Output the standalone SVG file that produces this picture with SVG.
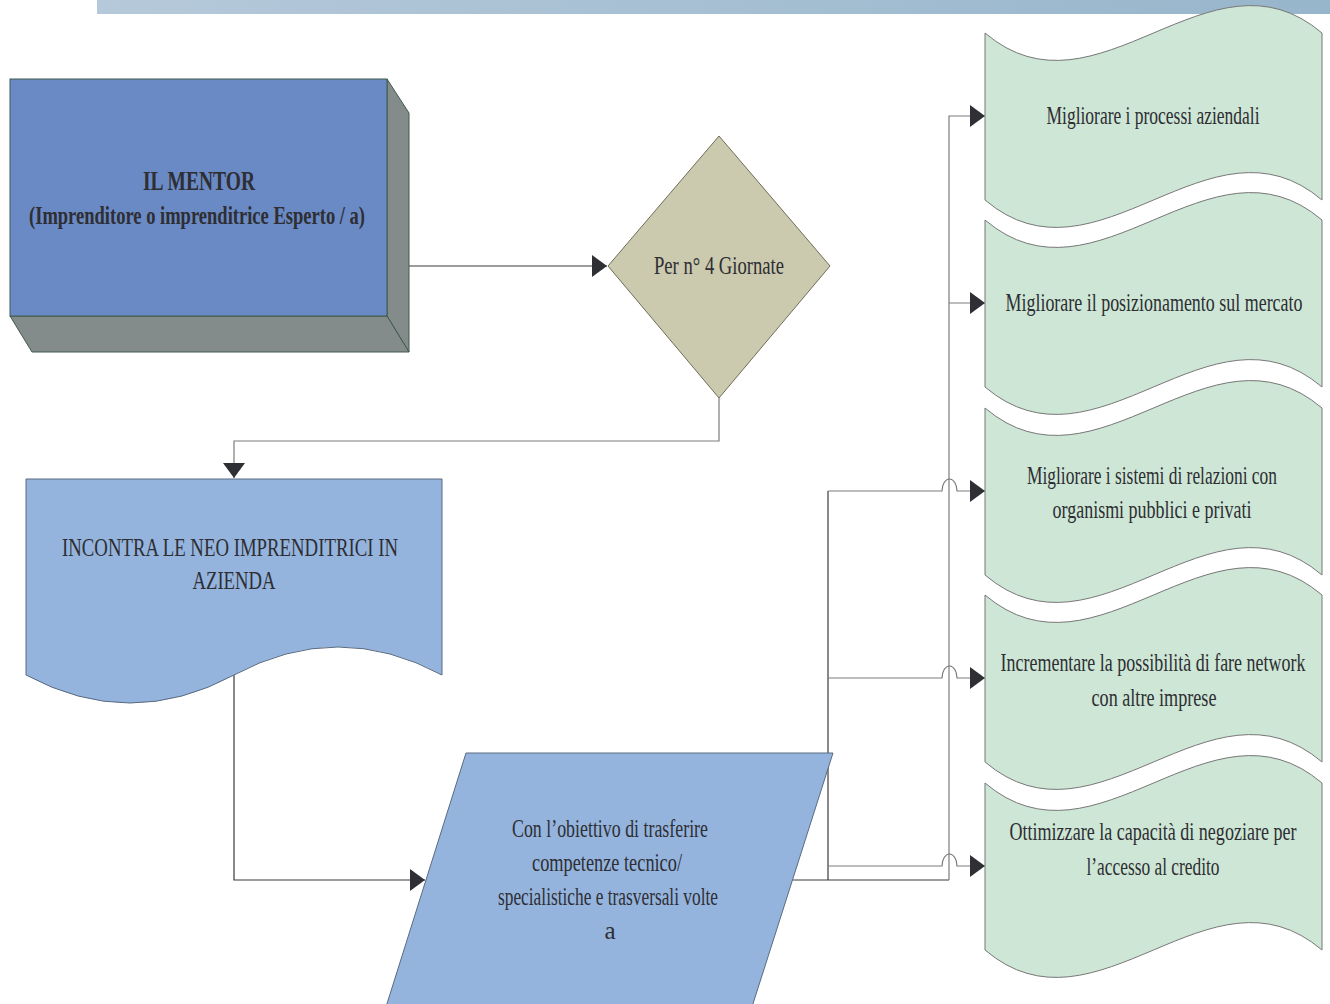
<svg xmlns="http://www.w3.org/2000/svg" width="1330" height="1004" viewBox="0 0 1330 1004">
<defs>
<linearGradient id="bar" x1="0" y1="0" x2="1" y2="0">
<stop offset="0" stop-color="#b5c9da"/>
<stop offset="1" stop-color="#97b5cb"/>
</linearGradient>
<marker id="arr" markerUnits="userSpaceOnUse" markerWidth="15" markerHeight="22" refX="15" refY="11" orient="auto">
<path d="M0,0 L15,11 L0,22 Z" fill="#2f2f36"/>
</marker>
</defs>
<style>
text{font-family:"Liberation Serif","Times New Roman",serif;fill:#2e2e33;text-anchor:middle}
.t{font-size:25px}
.wave{fill:#cde6d5;stroke:#777;stroke-width:1}
.dk{fill:none;stroke:#3a3a3a;stroke-width:1.2}
.gr{fill:none;stroke:#7c7c7c;stroke-width:1.2}
</style>
<rect x="97" y="0" width="1233" height="14" fill="url(#bar)"/>

<g id="connectors">
<path class="dk" d="M409,266 H607" marker-end="url(#arr)"/>
<path class="gr" d="M719,398 V441 H234 V478" marker-end="url(#arr)"/>
<path class="dk" d="M234,675 V880 H425" marker-end="url(#arr)"/>
<path class="dk" d="M793,880 H949"/>
<path class="gr" d="M949,880 V116 H985" marker-end="url(#arr)"/>
<path class="gr" d="M949,303 H985" marker-end="url(#arr)"/>
<path class="dk" d="M828,880 V491"/>
<path class="gr" d="M828,491 H942 A7.5,12 0 0 1 957,491 H985" marker-end="url(#arr)"/>
<path class="gr" d="M828,678 H942 A7.5,12 0 0 1 957,678 H985" marker-end="url(#arr)"/>
<path class="gr" d="M828,866 H942 A7.5,12 0 0 1 957,866 H985" marker-end="url(#arr)"/>
</g>

<g id="mentor">
<path d="M387,79 L409,113 V352 L387,316 Z" fill="#838b8b" stroke="#3f5a4a" stroke-width="1"/>
<path d="M10,316 L32,352 H409 L387,316 Z" fill="#838b8b" stroke="#3f5a4a" stroke-width="1"/>
<rect x="10" y="79" width="377" height="237" fill="#6a8ac6" stroke="#3f5a4a" stroke-width="1"/>
<text x="199" y="190" font-size="28" font-weight="bold" textLength="112" lengthAdjust="spacingAndGlyphs">IL MENTOR</text>
<text x="197" y="224" font-size="26" font-weight="bold" textLength="336" lengthAdjust="spacingAndGlyphs">(Imprenditore o imprenditrice  Esperto / a)</text>
</g>

<g id="giornate">
<path d="M719,136 L830,266 L719,398 L608,266 Z" fill="#cbc9ae" stroke="#6e6c58" stroke-width="1"/>
<text class="t" x="719" y="274" textLength="130" lengthAdjust="spacingAndGlyphs">Per n° 4 Giornate</text>
</g>

<g id="incontra">
<path d="M26,479 H442 V675 Q338,619 234,675 Q130,731 26,675 Z" fill="#94b4de" stroke="#5a6a80" stroke-width="1"/>
<text class="t" x="230" y="556" textLength="336" lengthAdjust="spacingAndGlyphs">INCONTRA LE NEO IMPRENDITRICI  IN</text>
<text class="t" x="234" y="589" textLength="83" lengthAdjust="spacingAndGlyphs">AZIENDA</text>
</g>

<g id="obiettivo">
<path d="M466,753 H833 L751,1010 H385 Z" fill="#94b4de" stroke="#5a6a80" stroke-width="1"/>
<text class="t" x="610" y="837" textLength="196" lengthAdjust="spacingAndGlyphs">Con l’obiettivo di trasferire</text>
<text class="t" x="607" y="871" textLength="150" lengthAdjust="spacingAndGlyphs">competenze tecnico/</text>
<text class="t" x="608" y="905" textLength="220" lengthAdjust="spacingAndGlyphs">specialistiche e trasversali volte</text>
<text class="t" x="610" y="939">a</text>
</g>

<g id="obj1">
<path class="wave" d="M985,33 C1097,128 1210,-62 1322,33 L1322,200 C1210,105 1097,295 985,200 Z"/>
<text class="t" x="1153" y="124" textLength="213" lengthAdjust="spacingAndGlyphs">Migliorare i processi aziendali</text>
</g>
<g id="obj2">
<path class="wave" d="M985,220 C1097,315 1210,125 1322,220 L1322,387 C1210,292 1097,482 985,387 Z"/>
<text class="t" x="1154" y="311" textLength="297" lengthAdjust="spacingAndGlyphs">Migliorare il posizionamento sul mercato</text>
</g>
<g id="obj3">
<path class="wave" d="M985,408 C1097,503 1210,313 1322,408 L1322,575 C1210,480 1097,670 985,575 Z"/>
<text class="t" x="1152" y="484" textLength="250" lengthAdjust="spacingAndGlyphs">Migliorare i sistemi di relazioni con</text>
<text class="t" x="1152" y="518" textLength="199" lengthAdjust="spacingAndGlyphs">organismi pubblici e privati</text>
</g>
<g id="obj4">
<path class="wave" d="M985,595 C1097,690 1210,500 1322,595 L1322,762 C1210,667 1097,857 985,762 Z"/>
<text class="t" x="1153" y="671" textLength="305" lengthAdjust="spacingAndGlyphs">Incrementare la possibilità di fare network</text>
<text class="t" x="1154" y="706" textLength="125" lengthAdjust="spacingAndGlyphs">con altre imprese</text>
</g>
<g id="obj5">
<path class="wave" d="M985,783 C1097,878 1210,688 1322,783 L1322,950 C1210,855 1097,1045 985,950 Z"/>
<text class="t" x="1153" y="840" textLength="287" lengthAdjust="spacingAndGlyphs">Ottimizzare la capacità di negoziare per</text>
<text class="t" x="1153" y="875" textLength="133" lengthAdjust="spacingAndGlyphs">l’accesso al credito</text>
</g>
</svg>
